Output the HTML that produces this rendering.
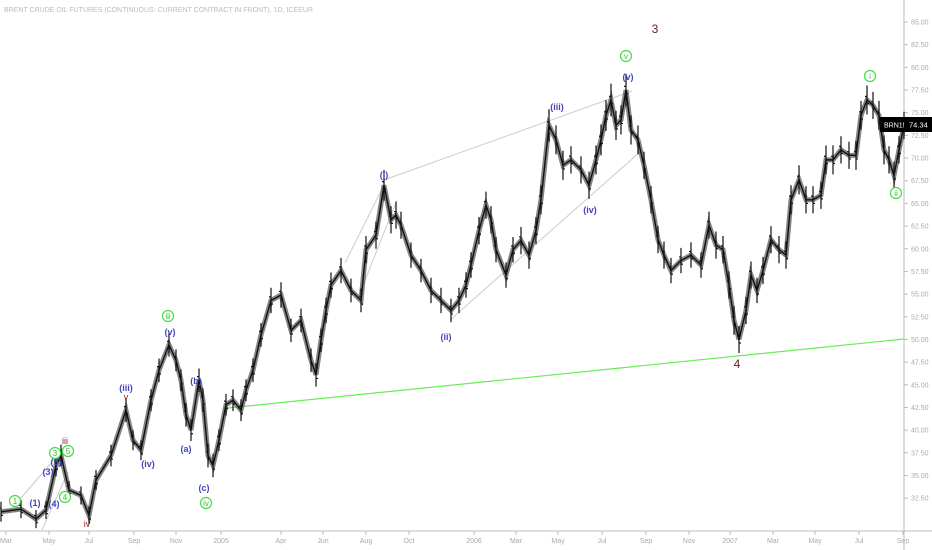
<!DOCTYPE html>
<html><head><meta charset="utf-8"><style>
body{margin:0;background:#fff;}
svg{display:block;font-family:"Liberation Sans",sans-serif;}
</style></head><body>
<svg id="chart" width="932" height="550">
<text x="4" y="12" font-size="7" fill="#bbb">BRENT CRUDE OIL FUTURES (CONTINUOUS: CURRENT CONTRACT IN FRONT), 1D, ICEEUR</text>
<line x1="904" y1="0" x2="904" y2="550" stroke="#bbb"/>
<line x1="0" y1="531" x2="932" y2="531" stroke="#bbb"/>
<g id="yticks"></g><g id="xticks"></g><g id="lines"></g><g id="bars"></g><g id="labels"></g>
</svg>
<script>
const priceTicks=[32.5,35,37.5,40,42.5,45,47.5,50,52.5,55,57.5,60,62.5,65,67.5,70,72.5,75,77.5,80,82.5,85];
const monthLabels=["Mar","May","Jul","Sep","Nov","2005","Apr","Jun","Aug","Oct","2006","Mar","May","Jul","Sep","Nov","2007","Mar","May","Jul","Sep"];
const monthDays=[6,49,89,134,176,221,281,323,366,409,474,516,558,602,646,689,730,773,815,859,903];
const days=[0,20,35,45,55,60,68,80,88,95,110,125,132,140,150,158,168,175,180,185,190,198,202,207,212,218,225,232,240,245,252,260,270,280,290,300,310,315,320,325,330,340,350,360,365,375,383,390,395,400,410,420,430,440,450,458,465,470,478,485,490,495,505,512,520,528,535,540,548,555,562,570,580,588,595,600,605,610,615,620,625,630,637,643,650,657,663,670,680,690,700,708,715,722,728,733,738,745,750,756,762,770,778,785,790,798,805,812,820,825,832,840,848,855,860,866,872,878,883,888,893,898,903];
const prices=[31.0,31.3,30.2,31.2,36.1,37.2,33.4,32.8,30.6,34.5,37.2,42.2,38.9,37.8,43.3,46.6,49.4,47.7,45.5,41.7,40.0,45.5,43.3,37.2,36.1,38.9,42.8,43.3,42.2,44.4,46.6,50.5,54.3,54.9,51.0,52.1,47.7,46.1,49.9,53.2,56.0,57.6,55.4,54.3,59.9,61.5,67.0,63.2,63.7,62.6,59.3,57.6,55.4,54.3,53.2,54.3,56.0,58.2,62.0,64.8,63.2,59.9,57.1,59.9,60.9,59.3,62.0,65.4,73.6,72.0,69.2,69.8,68.7,67.0,69.8,72.0,74.7,76.4,73.6,74.2,77.5,73.1,72.0,69.2,65.4,61.0,59.3,57.6,58.7,59.3,58.2,62.6,60.4,59.9,56.0,52.1,50.0,53.2,57.1,55.4,57.6,61.0,59.9,59.3,65.4,67.6,65.4,65.4,65.9,69.8,69.8,70.9,70.3,70.3,74.7,76.4,75.8,74.7,70.9,69.8,68.1,70.9,73.6];
const ranges=[2.2,2.0,2.0,2.0,2.4,2.4,2.0,2.0,2.0,2.2,2.4,2.6,2.2,2.2,2.4,2.6,2.6,2.4,2.4,2.6,2.4,2.6,2.6,2.6,2.6,2.4,2.4,2.4,2.4,2.4,2.6,2.6,2.8,2.8,2.6,2.6,2.6,2.6,2.6,2.8,2.8,2.8,2.6,2.6,3.0,3.0,3.4,3.0,3.0,3.0,2.8,2.6,2.8,2.8,2.6,2.8,2.8,2.8,3.0,3.0,3.0,2.8,2.8,2.8,3.0,3.0,3.0,3.2,3.6,3.2,3.2,3.0,3.0,3.0,3.2,3.4,3.4,3.6,3.2,3.2,3.6,3.2,3.2,3.0,3.0,3.0,3.0,2.8,2.8,2.8,2.8,3.0,3.0,3.0,3.0,3.2,3.0,3.0,3.0,2.8,3.0,3.0,3.0,3.0,3.2,3.2,3.0,3.0,3.0,3.2,3.2,3.0,3.0,3.2,3.2,3.2,3.0,3.2,3.2,3.0,3.0,3.0,3.0];
const NS="http://www.w3.org/2000/svg";
function y(p){return 22+(85-p)*9.07;}
function x(d){return d+1;}
function mk(t,a,parent){const e=document.createElementNS(NS,t);for(const k in a)e.setAttribute(k,a[k]);document.getElementById(parent).appendChild(e);return e;}
priceTicks.forEach(p=>{
 const l=mk('line',{x1:904,x2:908,y1:y(p),y2:y(p),stroke:'#bbb'},'yticks');
 
 
 const t=mk('text',{x:911,y:y(p)+2.5,'font-size':7,fill:'#aaa'},'yticks');
 t.textContent=p.toFixed(2);
 
 
});
monthLabels.forEach((m,i)=>{
 const l=mk('line',{x1:monthDays[i],x2:monthDays[i],y1:531,y2:535,stroke:'#bbb'},'xticks');
 
 
 const t=mk('text',{x:monthDays[i],y:543,'font-size':7,fill:'#aaa','text-anchor':'middle'},'xticks');
 t.textContent=m;
 
 
});
const tl=[[228,408,904,339,'#66ee55',1.2,'support-trendline'],[384,180,632,91,'#ccc',1,'channel-upper'],[450,320,640,152,'#ccc',1,'channel-lower'],[345,263,384,185,'#ccc',1,'wedge-line-1'],[358,298,397,200,'#ccc',1,'wedge-line-2'],[15,505,58,455,'#ccc',1,'early-line-1'],[42,530,68,472,'#ccc',1,'early-line-2']];
tl.forEach(a=>{const l=mk('line',{x1:a[0],y1:a[1],x2:a[2],y2:a[3],stroke:a[4],'stroke-width':a[5]},'lines');
 
 });
const pts=days.map((d,i)=>x(d)+','+y(prices[i])).join(' ');
const band=mk('polyline',{points:pts,fill:'none',stroke:'#666','stroke-width':5,'stroke-linejoin':'miter',opacity:0.8},'bars');


const pl=mk('polyline',{points:pts,fill:'none',stroke:'#111','stroke-width':1.4},'bars');


days.forEach((d,i)=>{
 const hi=prices[i]+ranges[i]/2, lo=prices[i]-ranges[i]/2;
 const g=mk('path',{d:`M${x(d)},${y(hi)}V${y(lo)}M${x(d)-2},${y(prices[i]+0.4)}H${x(d)}M${x(d)},${y(prices[i]-0.4)}H${x(d)+2}`,stroke:'#111','stroke-width':1.2,fill:'none'},'bars');
 
 
});
const wl=[[15,501,'1','g'],[35,503,'(1)','b'],[48,472,'(3)','b'],[54,504,'(4)','b'],[56,462,'(5)','b'],[55,453,'3','g'],[68,451,'5','g'],[65,497,'4','g'],[65,441,'iii','r'],[87,524,'iv','r'],[126,388,'(iii)','b'],[126,397,'v','r'],[148,464,'(iv)','b'],[168,316,'iii','g'],[170,332,'(v)','b'],[196,381,'(b)','b'],[186,449,'(a)','b'],[204,488,'(c)','b'],[206,503,'iv','g'],[384,175,'(i)','b'],[446,337,'(ii)','b'],[557,107,'(iii)','b'],[590,210,'(iv)','b'],[628,77,'(v)','b'],[626,56,'v','g'],[655,29,'3','R'],[737,364,'4','R'],[870,76,'i','g'],[896,193,'ii','g']];
wl.forEach(a=>{
 if(a[3]==='g'){const c=mk('circle',{cx:a[0],cy:a[1],r:5.5,fill:'#fff',stroke:'#44dd44','stroke-width':1.2},'labels');
  
  }
 const col={g:'#33bb33',b:'#4444bb',r:'#8b1a1a',R:'#6b1a1a'}[a[3]];
 const fs=a[3]==='R'?12:(a[3]==='g'?8:9);
 const t=mk('text',{x:a[0],y:a[1]+(a[3]==='R'?4:3),'font-size':fs,fill:col,'text-anchor':'middle','font-weight':a[3]==='b'?'bold':'normal'},'labels');
 t.textContent=a[2];
 
 
});
const r1=mk('rect',{x:880,y:117,width:52,height:15,fill:'#000'},'labels');


const t1=mk('text',{x:884,y:127.5,'font-size':7,fill:'#fff'},'labels');
t1.textContent='BRN1!';


const t2=mk('text',{x:909,y:127.5,'font-size':7.5,fill:'#fff'},'labels');
t2.textContent='74.34';


</script>
</body></html>
